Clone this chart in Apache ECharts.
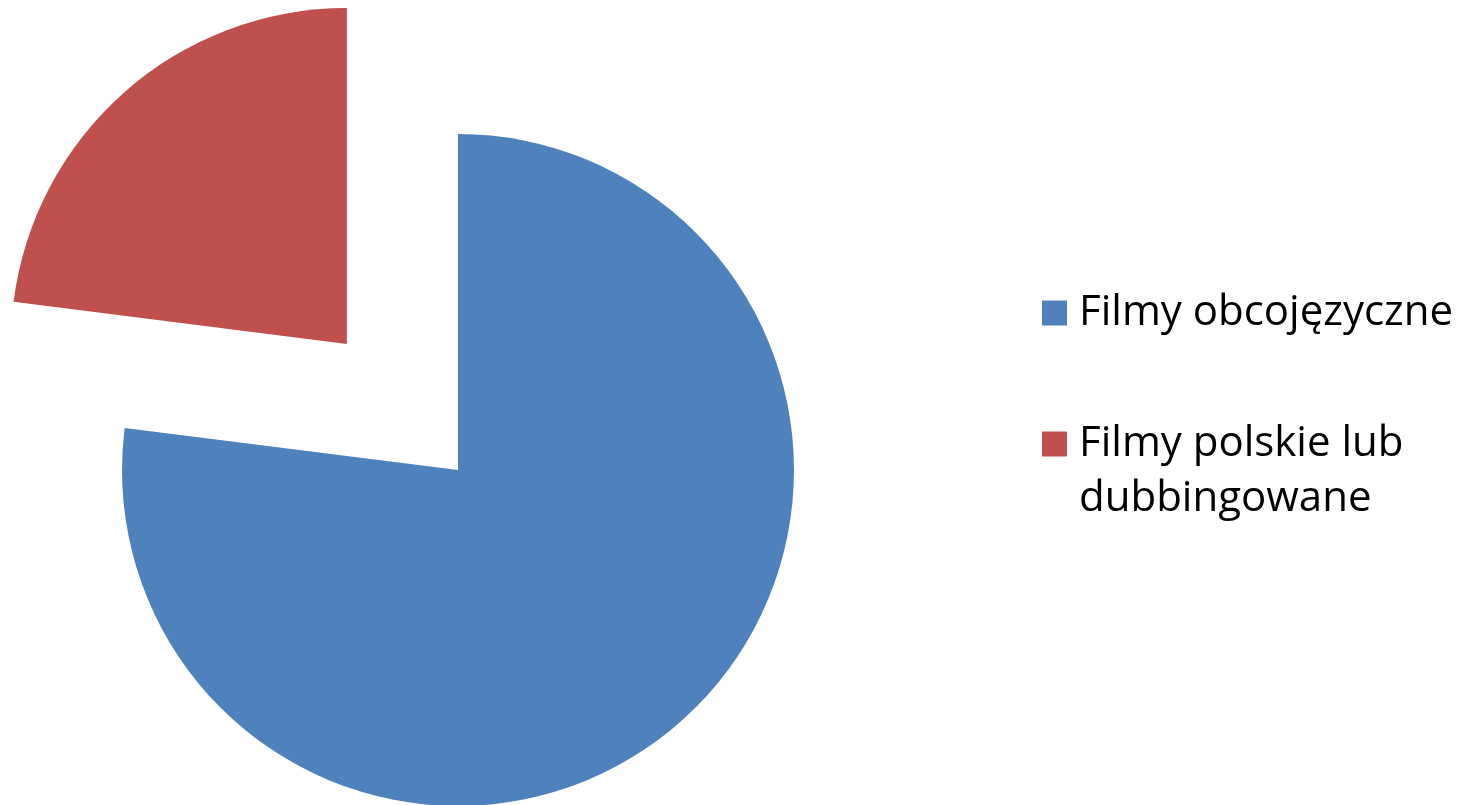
<!DOCTYPE html>
<html>
<head>
<meta charset="utf-8">
<script src="https://cdn.jsdelivr.net/npm/echarts@6/dist/echarts.min.js"></script>
<style>
html,body{margin:0;padding:0;background:#fff;}
#chart{width:1474px;height:805px;}
</style>
</head>
<body>
<div id="chart"></div>
<script>
const categories = ['Filmy obcojęzyczne', 'Filmy polskie lub\ndubbingowane'];
const values = [77, 23];
const colors = ['#4F81BD', '#C0504D'];
const explodedIndex = 1;

const chart = echarts.init(document.getElementById('chart'));
const fontFamily = '"Open Sans", sans-serif';

const legendText = {
  fontFamily: fontFamily,
  fontSize: 42,
  lineHeight: 55,
  color: '#000000',
  padding: [0, 0, 0, 7]
};

const option = {
  animation: false,
  backgroundColor: '#ffffff',
  legend: [
    {
      data: [categories[0]],
      orient: 'vertical',
      left: 1042,
      top: 285.5,
      padding: 0,
      icon: 'rect',
      itemWidth: 25,
      itemHeight: 25,
      selectedMode: false,
      textStyle: legendText
    },
    {
      data: [categories[1]],
      orient: 'vertical',
      left: 1042,
      top: 361.5,
      padding: 0,
      icon: 'rect',
      itemWidth: 25,
      itemHeight: 25,
      selectedMode: false,
      // blank leading line keeps the icon level with the first text line
      formatter: name => ' \n' + name,
      textStyle: legendText
    }
  ],
  series: [
    {
      type: 'pie',
      center: [458, 470],
      radius: 336,
      startAngle: 90,
      clockwise: true,
      selectedMode: 'single',
      selectedOffset: 168,
      label: { show: false },
      labelLine: { show: false },
      emphasis: { disabled: true },
      data: categories.map((name, i) => ({
        name: name,
        value: values[i],
        selected: i === explodedIndex,
        itemStyle: { color: colors[i] }
      }))
    }
  ]
};
chart.setOption(option);
</script>
</body>
</html>
